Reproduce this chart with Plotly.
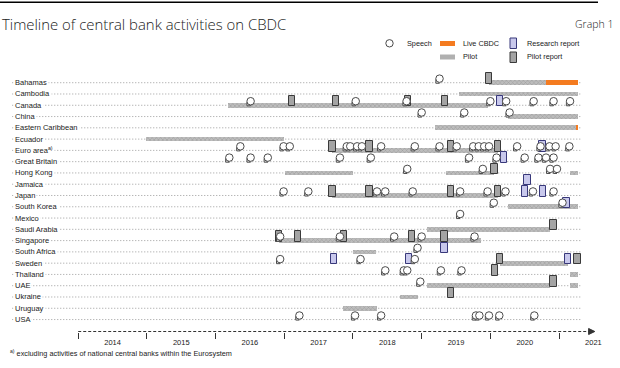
import plotly.graph_objects as go

# ---------------- data ----------------
countries = ["Bahamas", "Cambodia", "Canada", "China", "Eastern Caribbean", "Ecuador",
             "Euro area<sup>a)</sup>", "Great Britain", "Hong Kong", "Jamaica", "Japan",
             "South Korea", "Mexico", "Saudi Arabia", "Singapore", "South Africa", "Sweden",
             "Thailand", "UAE", "Ukraine", "Uruguay", "USA"]
EA = "Euro area<sup>a)</sup>"

speeches = {
    "Bahamas": [2019.26],
    "Canada": [2016.51, 2018.04, 2018.78, 2020.00, 2020.23, 2020.63, 2020.92, 2021.16],
    "China": [2019.00, 2019.62, 2020.28],
    EA: [2016.36, 2016.99, 2017.08, 2017.91, 2017.96, 2018.06, 2018.13, 2018.41, 2018.90,
         2019.26, 2019.51, 2019.75, 2019.83, 2019.91, 2019.98, 2020.39, 2020.73, 2020.86,
         2020.95, 2021.15],
    "Great Britain": [2016.20, 2016.51, 2016.76, 2017.81, 2018.26, 2019.69, 2020.09, 2020.50,
                      2020.70, 2020.81, 2020.92],
    "Hong Kong": [2018.79, 2019.89, 2020.87, 2020.97],
    "Japan": [2016.99, 2017.35, 2018.35, 2018.47, 2018.87, 2019.56, 2019.96, 2020.22, 2020.62,
              2020.92],
    "South Korea": [2020.05, 2021.05],
    "Mexico": [2019.56],
    "Singapore": [2016.94, 2017.81, 2018.60, 2019.00, 2019.77],
    "South Africa": [2018.94],
    "Sweden": [2016.94, 2018.11, 2018.90],
    "Thailand": [2018.47, 2018.74, 2018.79, 2019.28, 2019.58],
    "UAE": [2018.98],
    "USA": [2017.22, 2018.03, 2018.41, 2019.79, 2019.84, 2019.98, 2020.13, 2020.64],
}

pilots = {  # (start, end)
    "Bahamas": [(2019.98, 2020.81)],
    "Cambodia": [(2019.55, 2021.27)],
    "Canada": [(2016.18, 2019.96)],
    "China": [(2020.25, 2021.27)],
    "Eastern Caribbean": [(2019.20, 2021.25)],
    "Ecuador": [(2014.98, 2017.00)],
    EA: [(2017.70, 2020.11)],
    "Hong Kong": [(2017.01, 2018.00), (2019.35, 2020.05), (2021.16, 2021.27)],
    "Japan": [(2017.70, 2020.11)],
    "South Korea": [(2020.26, 2021.27)],
    "Saudi Arabia": [(2019.08, 2020.87)],
    "Singapore": [(2016.92, 2019.86)],
    "South Africa": [(2018.00, 2018.33)],
    "Sweden": [(2020.14, 2021.13)],
    "Thailand": [(2021.16, 2021.27)],
    "UAE": [(2019.08, 2020.87), (2021.16, 2021.27)],
    "Ukraine": [(2018.69, 2018.95)],
    "Uruguay": [(2017.85, 2018.35)],
}

live = {
    "Bahamas": [(2020.81, 2021.27)],
    "Eastern Caribbean": [(2021.245, 2021.275)],
}

pilot_reports = {
    "Bahamas": [2019.98],
    "Canada": [2017.11, 2017.75, 2018.80, 2019.34],
    EA: [2017.70, 2018.24, 2019.43, 2020.11],
    "Hong Kong": [2020.06],
    "Japan": [2017.70, 2018.24, 2019.43, 2020.11],
    "Saudi Arabia": [2020.92],
    "Singapore": [2016.92, 2017.20, 2017.87, 2018.86, 2019.33],
    "Sweden": [2020.14, 2021.27],
    "Thailand": [2020.07],
    "UAE": [2020.92],
    "Ukraine": [2019.43],
}

research_reports = {
    "Canada": [2020.14],
    EA: [2020.76],
    "Great Britain": [2020.20],
    "Jamaica": [2020.54],
    "Japan": [2020.50, 2020.77],
    "South Korea": [2021.11],
    "South Africa": [2019.33],
    "Sweden": [2017.72, 2018.82, 2021.13],
}

years = [2014, 2015, 2016, 2017, 2018, 2019, 2020, 2021]

# ---------------- geometry helpers (layout only) ----------------
W, H = 620, 368
ML, MR = 10, 25
PLOT_T, PLOT_B = 72, 331.5
PW = W - ML - MR
def PX(p):
    return (p - ML) / PW
def PY(p):
    return 1 - p / H

row = {c: i for i, c in enumerate(countries)}
ICON_W, ICON_H, ICON_OFF = 0.092, 0.92, -0.36
BAR_H = 0.42
PILOT_FILL = "#b4b4b4"

fig = go.Figure()

def add_bars(d, name, color, pattern=None):
    ys, xs, bs = [], [], []
    for c, spans in d.items():
        for s, e in spans:
            ys.append(row[c]); xs.append(e - s); bs.append(s)
    mk = dict(color=color, line=dict(width=0))
    if pattern:
        mk["pattern"] = pattern
    fig.add_trace(go.Bar(y=ys, x=xs, base=bs, orientation="h", width=BAR_H,
                         marker=mk, name=name, showlegend=False))

def add_icons(d, name, fill, edge):
    ys, xs, bs = [], [], []
    for c, ds in d.items():
        for t in ds:
            ys.append(row[c] + ICON_OFF); xs.append(ICON_W); bs.append(t - ICON_W / 2)
    fig.add_trace(go.Bar(y=ys, x=xs, base=bs, orientation="h", width=ICON_H,
                         marker=dict(color=fill, line=dict(color=edge, width=1)),
                         name=name, showlegend=False))

add_bars(pilots, "Pilot", PILOT_FILL,
         pattern=dict(shape="x", fgcolor="#7d7d7d", bgcolor="#bdbdbd", size=3, solidity=0.35))
add_bars(live, "Live CBDC", "#f47b20")
add_icons(pilot_reports, "Pilot report", "#a4a4a4", "#3a3a3a")
add_icons(research_reports, "Research report", "#c8c8ec", "#38387a")

sx, sy = [], []
for c, ds in speeches.items():
    for t in ds:
        sx.append(t); sy.append(row[c] + ICON_OFF)
# speech-bubble tails, then the bubbles
fig.add_trace(go.Scatter(x=[v - 0.036 for v in sx], y=[v + 0.30 for v in sy], mode="markers",
                         showlegend=False, cliponaxis=False, hoverinfo="skip",
                         marker=dict(symbol="triangle-sw", size=4, color="white",
                                     line=dict(color="#4a4a4a", width=1))))
fig.add_trace(go.Scatter(x=sx, y=sy, mode="markers", name="Speech", showlegend=False,
                         cliponaxis=False,
                         marker=dict(symbol="circle", size=7.5, color="white",
                                     line=dict(color="#4a4a4a", width=1))))

shapes = []
annots = []
LBL = dict(family="Liberation Sans, Arial, sans-serif", size=7.5, color="#1a1a1a")

# row gridlines + labels
for c, i in row.items():
    shapes.append(dict(type="line", xref="x", yref="y", x0=2013.04, x1=2021.31, y0=i, y1=i,
                       line=dict(color="#9c9c9c", width=1, dash="1px,2px"), layer="below"))
    annots.append(dict(x=0, xref="paper", y=i, yref="y", text=c, showarrow=False,
                       xanchor="left", yanchor="middle", xshift=2.5, font=LBL,
                       bgcolor="white", borderpad=1))

# x axis line with arrow head
shapes.append(dict(type="line", xref="x", yref="paper", x0=2014, x1=2021.44,
                   y0=PY(PLOT_B), y1=PY(PLOT_B),
                   line=dict(color="#333", width=1, dash="3px,2px")))
ax_end = 2021.52
shapes.append(dict(type="path", xref="x", yref="paper",
                   path=f"M {ax_end - 0.09},{PY(PLOT_B - 3)} L {ax_end},{PY(PLOT_B)} "
                        f"L {ax_end - 0.09},{PY(PLOT_B + 3)} Z",
                   fillcolor="#333", line=dict(color="#333", width=1)))

# title / header
annots.append(dict(x=PX(0), y=PY(24), xref="paper", yref="paper", xanchor="left",
                   yanchor="middle", showarrow=False,
                   text="Timeline of central bank activities on CBDC",
                   font=dict(family="Open Sans, sans-serif", size=14.9, color="#222", weight=300)))
annots.append(dict(x=PX(615), y=PY(24), xref="paper", yref="paper", xanchor="right",
                   yanchor="middle", showarrow=False, text="Graph 1",
                   font=dict(family="Open Sans, sans-serif", size=10.5, color="#222", weight=300)))
# header rule (paper y now inside [0, 1])
shapes.append(dict(type="rect", xref="paper", yref="paper", x0=0, x1=PX(598),
                   y0=PY(3), y1=PY(1.5), fillcolor="black", line=dict(width=0)))
shapes.append(dict(type="rect", xref="paper", yref="paper", x0=PX(0), x1=0,
                   y0=PY(3), y1=PY(1.5), fillcolor="black", line=dict(width=0)))

# legend (manual)
LEG = dict(family="Liberation Sans, Arial, sans-serif", size=7.3, color="#1a1a1a")
shapes.append(dict(type="circle", xref="paper", yref="paper", x0=PX(385.8), x1=PX(393.2),
                   y0=PY(47), y1=PY(39.6), fillcolor="white", line=dict(color="#4a4a4a", width=1)))
shapes.append(dict(type="rect", xref="paper", yref="paper", x0=PX(440), x1=PX(455),
                   y0=PY(46), y1=PY(41), fillcolor="#f47b20", line=dict(width=0)))
shapes.append(dict(type="rect", xref="paper", yref="paper", x0=PX(440), x1=PX(455),
                   y0=PY(59.5), y1=PY(54.5), fillcolor="#b0b0b0", line=dict(width=0)))
shapes.append(dict(type="rect", xref="paper", yref="paper", x0=PX(510), x1=PX(516.5),
                   y0=PY(48.5), y1=PY(38), fillcolor="#c8c8ec", line=dict(color="#38387a", width=1)))
shapes.append(dict(type="rect", xref="paper", yref="paper", x0=PX(510), x1=PX(516.5),
                   y0=PY(62.5), y1=PY(52), fillcolor="#a4a4a4", line=dict(color="#3a3a3a", width=1)))
for txt, x, y in [("Speech", 405, 43.5), ("Live CBDC", 461, 43.5), ("Pilot", 461, 57),
                  ("Research report", 525, 43.5), ("Pilot report", 525, 57)]:
    annots.append(dict(x=PX(x), y=PY(y), xref="paper", yref="paper", xanchor="left",
                       yanchor="middle", showarrow=False, text=txt, font=LEG))

# footnote
annots.append(dict(x=PX(8), y=PY(353), xref="paper", yref="paper", xanchor="left",
                   yanchor="middle", showarrow=False,
                   text="<sup>a)</sup> excluding activities of national central banks within the Eurosystem",
                   font=LEG))

fig.update_layout(
    width=W, height=H,
    margin=dict(l=ML, r=MR, t=0, b=0, pad=0),
    paper_bgcolor="white", plot_bgcolor="white",
    barmode="overlay", bargap=0,
    showlegend=False,
    shapes=shapes, annotations=annots,
    xaxis=dict(range=[2013.007, 2021.523], showgrid=False, zeroline=False, showline=False,
               tickmode="array", tickvals=[y + 0.5 for y in years],
               ticktext=[str(y) for y in years], ticks="outside", ticklen=3,
               tickcolor="rgba(0,0,0,0)",
               tickfont=dict(family="Liberation Sans, Arial, sans-serif", size=7.5, color="#1a1a1a"),
               minor=dict(tickmode="array", tickvals=years, ticks="outside", ticklen=6,
                          tickcolor="#333", tickwidth=1, showgrid=False)),
    yaxis=dict(domain=[PY(PLOT_B), PY(PLOT_T)],
               range=[22.06, -0.95], visible=False, showgrid=False, zeroline=False),
)

fig.write_html("out.html", config={"displayModeBar": False},
               post_script="document.body.style.margin='0';document.body.style.overflow='hidden';")
